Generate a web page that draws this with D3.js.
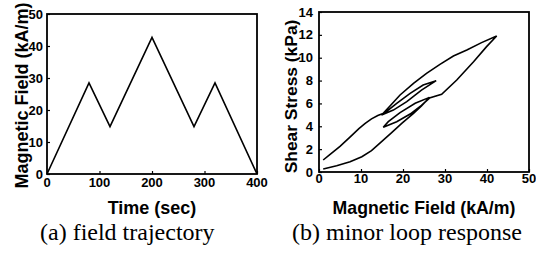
<!DOCTYPE html>
<html>
<head>
<meta charset="utf-8">
<script src="https://cdn.jsdelivr.net/npm/d3@7"></script>
<style>
  html, body { margin: 0; padding: 0; background: #fff; }
  svg { display: block; }
</style>
</head>
<body>
<svg id="chart" width="536" height="256"></svg>
<script>
// ---- Data: panel (a) field trajectory ----
const timeSec   = [0, 80, 120, 200, 280, 320, 400];
const fieldKAm  = [0, 28.5, 14.8, 42.7, 14.8, 28.5, 0];
const aXTicks   = [0, 100, 200, 300, 400];
const aYTicks   = [0, 10, 20, 30, 40, 50];

// ---- Data: panel (b) minor loop response (path in time order) ----
const loopField = [1.0, 4.2, 7.4, 10.2, 12.5, 14.9, 17.3, 19.7, 22.5, 24.4, 26.3,
                   22.9, 19.3, 16.5, 15.3,
                   18.5, 21.7, 24.4, 26.3, 29.2, 32.8, 36.8, 39.9, 42.3,
                   38.7, 35.2, 32.0, 28.8, 25.6, 22.5, 19.3, 16.9, 14.9,
                   17.7, 20.9, 24.4, 27.9,
                   24.8, 21.7, 18.5, 15.7, 14.0, 12.5, 11.0, 9.5, 7.5, 5.0, 2.5, 1.0];
const loopStress = [0.26, 0.55, 0.90, 1.34, 1.87, 2.65, 3.44, 4.26, 5.13, 5.77, 6.53,
                    6.01, 5.19, 4.40, 3.91,
                    4.40, 5.07, 5.83, 6.47, 6.80, 8.05, 9.65, 10.97, 11.90,
                    11.32, 10.67, 10.15, 9.42, 8.63, 7.76, 6.74, 5.77, 4.99,
                    5.42, 6.15, 7.17, 7.99,
                    7.61, 6.88, 6.01, 5.19, 4.95, 4.65, 4.25, 3.80, 3.10, 2.25, 1.50, 1.05];
const bXTicks = [0, 10, 20, 30, 40, 50];
const bYTicks = [0, 2, 4, 6, 8, 10, 12, 14];

const svg = d3.select("#chart");
const SANS = "'Liberation Sans', Arial, Helvetica, sans-serif";
const SERIF = "'Liberation Serif', 'Times New Roman', Times, serif";

function panel(opt) {
  const x = d3.scaleLinear().domain(opt.xDomain).range([opt.left, opt.right]);
  const y = d3.scaleLinear().domain(opt.yDomain).range([opt.bottom, opt.top]);
  const g = svg.append("g");

  // inward ticks
  const xAxis = d3.axisBottom(x).tickValues(opt.xTicks).tickSize(-3).tickFormat("");
  const yAxis = d3.axisLeft(y).tickValues(opt.yTicks).tickSize(-3).tickFormat("");
  g.append("g").attr("transform", `translate(0,${opt.bottom})`).call(xAxis)
    .call(s => s.select(".domain").remove())
    .selectAll("line").attr("stroke", "#000").attr("stroke-width", 1.2);
  g.append("g").attr("transform", `translate(${opt.left},0)`).call(yAxis)
    .call(s => s.select(".domain").remove())
    .selectAll("line").attr("stroke", "#000").attr("stroke-width", 1.2);

  // tick labels
  g.selectAll(".xt").data(opt.xTicks).enter().append("text")
    .attr("x", d => x(d)).attr("y", opt.bottom + opt.xLabOff)
    .attr("text-anchor", "middle")
    .attr("font-family", SANS).attr("font-weight", "bold").attr("font-size", 13)
    .text(d => d);
  g.selectAll(".yt").data(opt.yTicks).enter().append("text")
    .attr("x", opt.left - opt.yLabOff).attr("y", d => y(d) + 4.6)
    .attr("text-anchor", "end")
    .attr("font-family", SANS).attr("font-weight", "bold").attr("font-size", 13)
    .text(d => d);

  // data line
  const line = d3.line().x(d => x(d[0])).y(d => y(d[1]));
  g.append("path").datum(d3.zip(opt.xs, opt.ys))
    .attr("d", line).attr("fill", "none")
    .attr("stroke", "#000").attr("stroke-width", 1.6)
    .attr("stroke-linejoin", "miter");

  // frame
  g.append("rect")
    .attr("x", opt.left).attr("y", opt.top)
    .attr("width", opt.right - opt.left).attr("height", opt.bottom - opt.top)
    .attr("fill", "none").attr("stroke", "#000").attr("stroke-width", 1.8);

  // axis titles
  g.append("text")
    .attr("x", (opt.left + opt.right) / 2).attr("y", opt.xTitleY)
    .attr("text-anchor", "middle")
    .attr("font-family", SANS).attr("font-weight", "bold").attr("font-size", opt.xTitleSize)
    .text(opt.xTitle);
  g.append("text")
    .attr("transform", `translate(${opt.yTitleX},${opt.yTitleCY}) rotate(-90)`)
    .attr("text-anchor", "middle")
    .attr("font-family", SANS).attr("font-weight", "bold").attr("font-size", opt.yTitleSize)
    .text(opt.yTitle);

  // caption
  g.append("text")
    .attr("x", opt.capX).attr("y", 240)
    .attr("font-family", SERIF).attr("font-size", 24)
    .text(opt.caption);
}

panel({
  left: 47, right: 257, top: 14, bottom: 174,
  xDomain: [0, 400], yDomain: [0, 50],
  xTicks: aXTicks, yTicks: aYTicks,
  xLabOff: 13, yLabOff: 4,
  xs: timeSec, ys: fieldKAm,
  xTitle: "Time (sec)", xTitleY: 214, xTitleSize: 18,
  yTitle: "Magnetic Field (kA/m)", yTitleX: 28, yTitleCY: 95.5, yTitleSize: 18,
  caption: "(a) field trajectory", capX: 40
});

panel({
  left: 319, right: 529, top: 12, bottom: 172,
  xDomain: [0, 50], yDomain: [0, 14],
  xTicks: bXTicks, yTicks: bYTicks,
  xLabOff: 11, yLabOff: 6,
  xs: loopField, ys: loopStress,
  xTitle: "Magnetic Field (kA/m)", xTitleY: 214, xTitleSize: 17.7,
  yTitle: "Shear Stress (kPa)", yTitleX: 296.5, yTitleCY: 96.5, yTitleSize: 17.4,
  caption: "(b) minor loop response", capX: 292
});
</script>
</body>
</html>
